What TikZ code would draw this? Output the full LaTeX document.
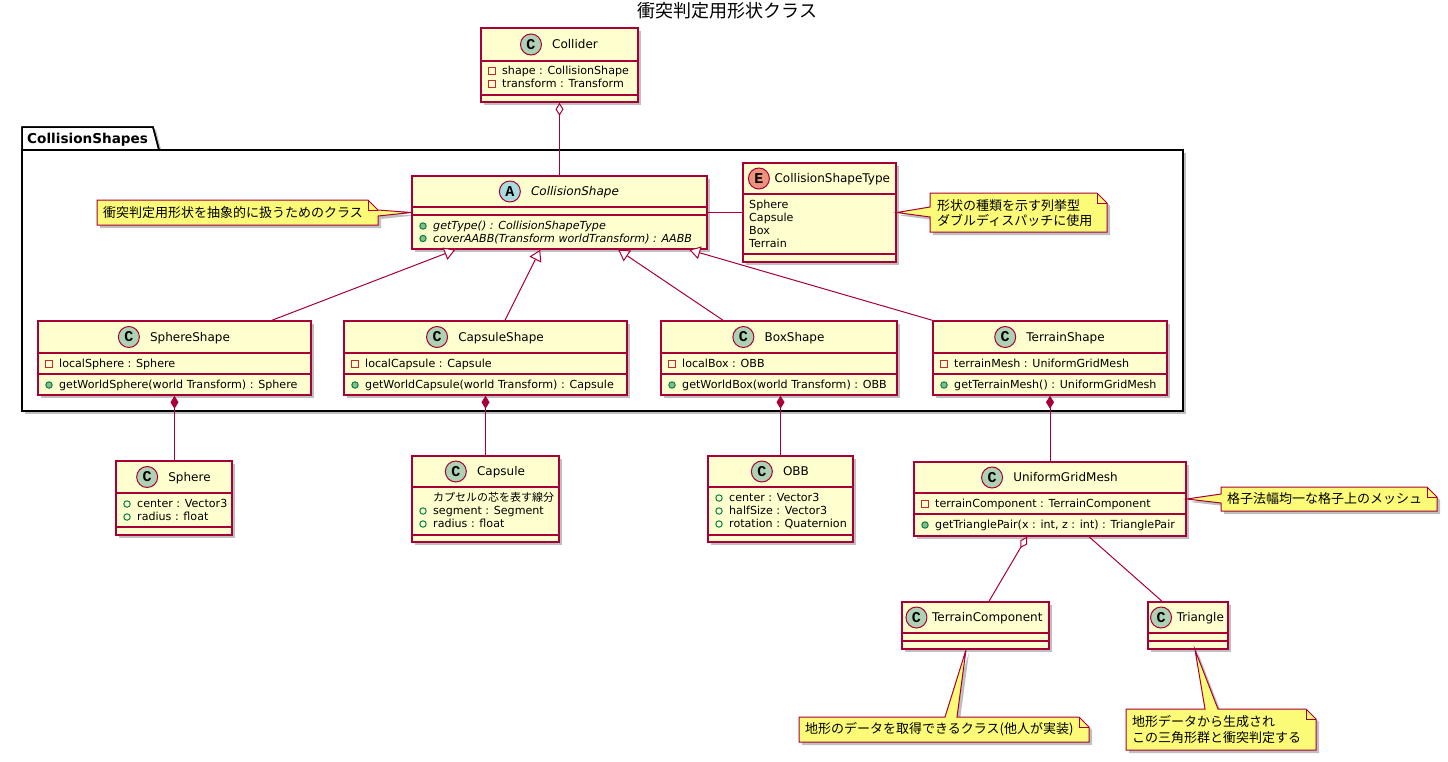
\documentclass[tikz,border=0pt]{standalone}
\usepackage{fontspec}
\setmainfont{DejaVu Sans}
\setmonofont{Liberation Mono}
\newfontfamily\cjk{Noto Sans CJK JP}
\usetikzlibrary{arrows.meta, positioning, shadows}
\definecolor{clsfill}{HTML}{FEFECE}
\definecolor{clsborder}{HTML}{A80036}
\definecolor{notefill}{HTML}{FBFB77}
\definecolor{circc}{HTML}{ADD1B2}
\definecolor{circa}{HTML}{A9DCDF}
\definecolor{circe}{HTML}{EB937F}
\definecolor{privred}{HTML}{C82930}
\definecolor{pubgreen}{HTML}{038048}
\definecolor{pubfill}{HTML}{84BE84}

\tikzset{
  umlshadow/.style={drop shadow={shadow xshift=3pt, shadow yshift=-3pt, fill=black, opacity=0.25}},
  cls/.style={draw=clsborder, fill=clsfill, line width=1.5pt, inner sep=0pt, umlshadow},
  sepline/.style={draw=clsborder, line width=1.5pt},
  clsname/.style={inner sep=0pt, text height=9pt, text depth=1pt, font=\fontsize{12}{14}\selectfont},
  member/.style={inner sep=0pt, anchor=west, text height=8pt, text depth=1pt, font=\fontsize{11.1}{13}\selectfont},
  circC/.style={circle, draw=clsborder, fill=circc, line width=1pt, minimum size=21pt, inner sep=0pt, font=\ttfamily\bfseries\fontsize{15}{15}\selectfont},
  circA/.style={circC, fill=circa},
  circE/.style={circC, fill=circe},
  priv/.style={draw=privred, line width=1pt},
  pubfield/.style={draw=pubgreen, line width=1pt},
  pubmeth/.style={draw=pubgreen, fill=pubfill, line width=1pt},
  link/.style={draw=clsborder, line width=1pt},
  genarrow/.style={-{Triangle[fill=white, length=11pt, width=13pt]}},
  comparrow/.style={{Diamond[length=13pt, width=8pt]}-},
  aggarrow/.style={{Diamond[fill=white, length=13pt, width=8pt]}-},
  note/.style={draw=clsborder, fill=notefill, line width=1pt, umlshadow},
  notefold/.style={draw=clsborder, line width=1pt},
  notetext/.style={inner sep=0pt, anchor=west, font=\cjk\fontsize{13}{15.5}\selectfont, align=left},
  pkg/.style={draw=black, fill=white, line width=1.5pt, umlshadow},
}

\begin{document}
\begin{tikzpicture}[x=1pt, y=-1pt]
\useasboundingbox (0,0) rectangle (1448,761);
% title
\node[inner sep=0pt, font=\cjk\fontsize{18}{20}\selectfont] (title) at (727.5,11) {衝突判定用形状クラス};

% package CollisionShapes
\draw[pkg] (22,150) -- (22,127) -- (153,127) -- (159,150) -- cycle;
\draw[pkg] (22,150) rectangle (1183,411);
\draw[black, line width=1.5pt] (22,150) -- (22,127) -- (153,127) -- (159,150);
\node[inner sep=0pt, anchor=west, text height=10pt, text depth=1pt, font=\bfseries\fontsize{13.6}{15}\selectfont] (pkgname) at (27,139) {CollisionShapes};

% Collider
\node[cls, minimum width=157pt, minimum height=74pt] (collider) at (559.5,65) {};
\draw[sepline] (481,61) -- (638,61);
\draw[sepline] (481,95) -- (638,95);
\node[clsname] (colliderN) at (575,44.5) {Collider};
\node[circC, left=10pt of colliderN] (colliderC) {C};
\draw[priv] (488.5,67.5) rectangle (495.5,74.5);
\node[member] (colliderA1) at (502,71) {shape : CollisionShape};
\draw[priv] (488.5,80.5) rectangle (495.5,87.5);
\node[member] (colliderA2) at (502,84) {transform : Transform};

% CollisionShape
\node[cls, minimum width=295pt, minimum height=73pt] (colshape) at (559.5,212.5) {};
\draw[sepline] (412,207) -- (707,207);
\draw[sepline] (412,215) -- (707,215);
\node[clsname] (colshapeN) at (575,191.5) {\itshape CollisionShape};
\node[circA, left=10pt of colshapeN] (colshapeC) {A};
\draw[pubmeth] (423,226) circle [radius=3.2pt];
\node[member] (colshapeM1) at (433,226) {\itshape getType() : CollisionShapeType};
\draw[pubmeth] (423,238.5) circle [radius=3.2pt];
\node[member] (colshapeM2) at (433,238.5) {\itshape coverAABB(Transform worldTransform) : AABB};

% CollisionShapeType
\node[cls, minimum width=153pt, minimum height=99pt] (shapetype) at (819.5,212.5) {};
\draw[sepline] (743,194) -- (896,194);
\draw[sepline] (743,254) -- (896,254);
\node[clsname] (shapetypeN) at (832.3,178.5) {CollisionShapeType};
\node[circE, left=4.5pt of shapetypeN] (shapetypeC) {E};
\node[member] (shapetypeA1) at (749,205) {Sphere};
\node[member] (shapetypeA2) at (749,218) {Capsule};
\node[member] (shapetypeA3) at (749,231) {Box};
\node[member] (shapetypeA4) at (749,244) {Terrain};

% SphereShape
\node[cls, minimum width=273pt, minimum height=74pt] (sphereshape) at (174.5,358) {};
\draw[sepline] (38,353) -- (311,353);
\draw[sepline] (38,374) -- (311,374);
\node[clsname] (sphereshapeN) at (190,337) {SphereShape};
\node[circC, left=10pt of sphereshapeN] (sphereshapeC) {C};
\draw[priv] (45.5,360.5) rectangle (52.5,367.5);
\node[member] (sphereshapeA1) at (59,364) {localSphere : Sphere};
\draw[pubmeth] (49,385) circle [radius=3.2pt];
\node[member] (sphereshapeM1) at (59,385) {getWorldSphere(world Transform) : Sphere};

% CapsuleShape
\node[cls, minimum width=283pt, minimum height=74pt] (capsuleshape) at (485.5,358) {};
\draw[sepline] (344,353) -- (627,353);
\draw[sepline] (344,374) -- (627,374);
\node[clsname] (capsuleshapeN) at (501,337) {CapsuleShape};
\node[circC, left=10pt of capsuleshapeN] (capsuleshapeC) {C};
\draw[priv] (351.5,360.5) rectangle (358.5,367.5);
\node[member] (capsuleshapeA1) at (365,364) {localCapsule : Capsule};
\draw[pubmeth] (355,385) circle [radius=3.2pt];
\node[member] (capsuleshapeM1) at (365,385) {getWorldCapsule(world Transform) : Capsule};

% BoxShape
\node[cls, minimum width=236pt, minimum height=74pt] (boxshape) at (779,358) {};
\draw[sepline] (661,353) -- (897,353);
\draw[sepline] (661,374) -- (897,374);
\node[clsname] (boxshapeN) at (794.5,337) {BoxShape};
\node[circC, left=10pt of boxshapeN] (boxshapeC) {C};
\draw[priv] (668.5,360.5) rectangle (675.5,367.5);
\node[member] (boxshapeA1) at (682,364) {localBox : OBB};
\draw[pubmeth] (672,385) circle [radius=3.2pt];
\node[member] (boxshapeM1) at (682,385) {getWorldBox(world Transform) : OBB};

% TerrainShape
\node[cls, minimum width=234pt, minimum height=74pt] (terrainshape) at (1050,358) {};
\draw[sepline] (933,353) -- (1167,353);
\draw[sepline] (933,374) -- (1167,374);
\node[clsname] (terrainshapeN) at (1065.5,337) {TerrainShape};
\node[circC, left=10pt of terrainshapeN] (terrainshapeC) {C};
\draw[priv] (940.5,360.5) rectangle (947.5,367.5);
\node[member] (terrainshapeA1) at (954,364) {terrainMesh : UniformGridMesh};
\draw[pubmeth] (944,385) circle [radius=3.2pt];
\node[member] (terrainshapeM1) at (954,385) {getTerrainMesh() : UniformGridMesh};

% Sphere
\node[cls, minimum width=116pt, minimum height=74pt] (sphere) at (174,498) {};
\draw[sepline] (116,493) -- (232,493);
\draw[sepline] (116,527) -- (232,527);
\node[clsname] (sphereN) at (189.5,477) {Sphere};
\node[circC, left=10pt of sphereN] (sphereC) {C};
\draw[pubfield] (127,504) circle [radius=3.2pt];
\node[member] (sphereA1) at (137,504) {center : Vector3};
\draw[pubfield] (127,517) circle [radius=3.2pt];
\node[member] (sphereA2) at (137,517) {radius : float};

% Capsule
\node[cls, minimum width=147pt, minimum height=86pt] (capsule) at (485.5,499) {};
\draw[sepline] (412,487) -- (559,487);
\draw[sepline] (412,535) -- (559,535);
\node[clsname] (capsuleN) at (501,471.5) {Capsule};
\node[circC, left=10pt of capsuleN] (capsuleC) {C};
\node[member, font=\cjk\fontsize{11}{13}\selectfont] (capsuleA0) at (433,498) {カプセルの芯を表す線分};
\draw[pubfield] (423,511) circle [radius=3.2pt];
\node[member] (capsuleA1) at (433,511) {segment : Segment};
\draw[pubfield] (423,524) circle [radius=3.2pt];
\node[member] (capsuleA2) at (433,524) {radius : float};

% OBB
\node[cls, minimum width=145pt, minimum height=86pt] (obb) at (780.5,499) {};
\draw[sepline] (708,487) -- (853,487);
\draw[sepline] (708,535) -- (853,535);
\node[clsname] (obbN) at (796,471.5) {OBB};
\node[circC, left=10pt of obbN] (obbC) {C};
\draw[pubfield] (719,498) circle [radius=3.2pt];
\node[member] (obbA1) at (729,498) {center : Vector3};
\draw[pubfield] (719,511) circle [radius=3.2pt];
\node[member] (obbA2) at (729,511) {halfSize : Vector3};
\draw[pubfield] (719,524) circle [radius=3.2pt];
\node[member] (obbA3) at (729,524) {rotation : Quaternion};

% UniformGridMesh
\node[cls, minimum width=272pt, minimum height=74pt] (ugm) at (1050,499) {};
\draw[sepline] (914,493) -- (1186,493);
\draw[sepline] (914,514) -- (1186,514);
\node[clsname] (ugmN) at (1065.5,477.5) {UniformGridMesh};
\node[circC, left=10pt of ugmN] (ugmC) {C};
\draw[priv] (921.5,500.5) rectangle (928.5,507.5);
\node[member] (ugmA1) at (935,504) {terrainComponent : TerrainComponent};
\draw[pubmeth] (925,525) circle [radius=3.2pt];
\node[member] (ugmM1) at (935,525) {getTrianglePair(x : int, z : int) : TrianglePair};

% TerrainComponent
\node[cls, minimum width=147pt, minimum height=47pt] (terraincomp) at (975.5,625.5) {};
\draw[sepline] (902,633) -- (1049,633);
\draw[sepline] (902,641) -- (1049,641);
\node[clsname] (terraincompN) at (987.3,617.5) {TerrainComponent};
\node[circC, left=4.5pt of terraincompN] (terraincompC) {C};

% Triangle
\node[cls, minimum width=80pt, minimum height=47pt] (triangle) at (1188,625.5) {};
\draw[sepline] (1148,633) -- (1228,633);
\draw[sepline] (1148,641) -- (1228,641);
\node[clsname] (triangleN) at (1200.3,617.5) {Triangle};
\node[circC, left=4.5pt of triangleN] (triangleC) {C};

% relations
\draw[link, aggarrow] (collider.south) -- (colshape.north);
\draw[link] (colshape.east) -- (shapetype.west);
\draw[link, genarrow] ([xshift=97.5pt]sphereshape.north) -- ([xshift=44pt]colshape.south west);
\draw[link, genarrow] ([xshift=19.5pt]capsuleshape.north) -- ([xshift=129pt]colshape.south west);
\draw[link, genarrow] ([xshift=-56pt]boxshape.north) -- ([xshift=207pt]colshape.south west);
\draw[link, genarrow] (terrainshape.north west) -- ([xshift=278pt]colshape.south west);
\draw[link, comparrow] (sphereshape.south) -- (sphereshape.south |- sphere.north);
\draw[link, comparrow] (capsuleshape.south) -- (capsule.north);
\draw[link, comparrow] (boxshape.south -| obb.north) -- (obb.north);
\draw[link, comparrow] (terrainshape.south) -- (ugm.north);
\draw[link, aggarrow] ([xshift=-23pt]ugm.south) -- ([xshift=13.5pt]terraincomp.north);
\draw[link] ([xshift=39pt]ugm.south) -- ([xshift=-26pt]triangle.north);

% notes
\draw[note] (97,200) -- (368,200) -- (378,210) -- (colshape.west) -- (378,216) -- (378,225) -- (97,225) -- cycle;
\draw[notefold] (368,200) -- (368,210) -- (378,210);
\node[notetext] (noteabs) at (103,212.5) {衝突判定用形状を抽象的に扱うためのクラス};

\draw[note] (930,193) -- (1097,193) -- (1107,203) -- (1107,232) -- (930,232) -- (930,217) -- (shapetype.east) -- (930,207) -- cycle;
\draw[notefold] (1097,193) -- (1097,203) -- (1107,203);
\node[notetext] (notetype) at (937,213) {形状の種類を示す列挙型\\ダブルディスパッチに使用};

\draw[note] (1221,487) -- (1427,487) -- (1437,497) -- (1437,511) -- (1221,511) -- (1221,503) -- (ugm.east) -- (1221,494) -- cycle;
\draw[notefold] (1427,487) -- (1427,497) -- (1437,497);
\node[notetext] (notegrid) at (1227,499) {格子法幅均一な格子上のメッシュ};

\draw[note] (799,717) -- (945,717) -- ([xshift=-9.5pt]terraincomp.south) -- (957,717) -- (1079,717) -- (1089,727) -- (1089,742) -- (799,742) -- cycle;
\draw[notefold] (1079,717) -- (1079,727) -- (1089,727);
\node[notetext] (notecomp) at (805,729.5) {地形のデータを取得できるクラス(他人が実装)};

\draw[note] (1126,709) -- (1205,709) -- ([xshift=7pt]triangle.south) -- (1218,709) -- (1306,709) -- (1316,719) -- (1316,750) -- (1126,750) -- cycle;
\draw[notefold] (1306,709) -- (1306,719) -- (1316,719);
\node[notetext] (notetri) at (1132,729.5) {地形データから生成され\\この三角形群と衝突判定する};
\end{tikzpicture}
\end{document}
